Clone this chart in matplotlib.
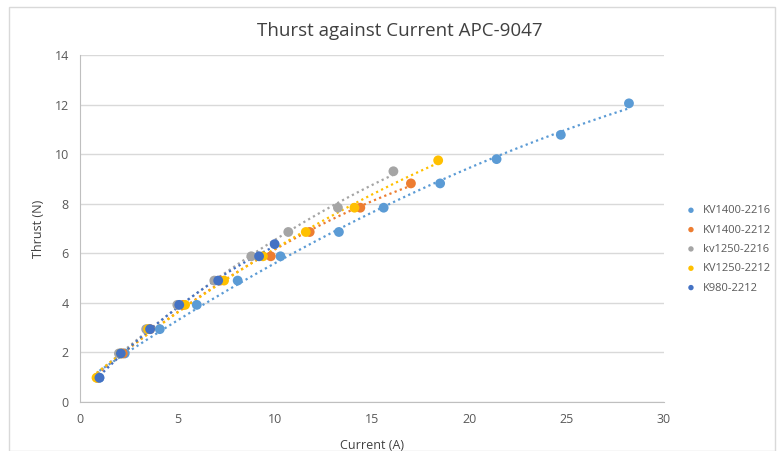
import numpy as np
import matplotlib
matplotlib.use('Agg')
import matplotlib.pyplot as plt
from matplotlib.patches import Rectangle

plt.rcParams['font.family'] = ['Open Sans', 'DejaVu Sans']

names = ['KV1400-2216', 'KV1400-2212', 'kv1250-2216', 'KV1250-2212', 'K980-2212']
colors = ['#5B9BD5', '#ED7D31', '#A5A5A5', '#FFC000', '#4472C4']

# current (A) / thrust (N)
kv1400_2216_i = [1.0, 2.3, 4.1, 6.0, 8.1, 10.3, 13.3, 15.6, 18.5, 21.4, 24.7, 28.2]
kv1400_2216_t = [0.98, 1.96, 2.94, 3.92, 4.9, 5.88, 6.86, 7.84, 8.82, 9.8, 10.78, 12.05]
kv1400_2212_i = [0.9, 2.2, 3.6, 5.3, 7.2, 9.8, 11.8, 14.4, 17.0]
kv1400_2212_t = [0.98, 1.96, 2.94, 3.92, 4.9, 5.88, 6.86, 7.84, 8.82]
kv1250_2216_i = [0.9, 2.0, 3.4, 5.0, 6.9, 8.8, 10.7, 13.25, 16.1]
kv1250_2216_t = [0.98, 1.96, 2.94, 3.92, 4.9, 5.88, 6.86, 7.84, 9.31]
kv1250_2212_i = [0.85, 2.1, 3.5, 5.4, 7.4, 9.4, 11.6, 14.1, 18.4]
kv1250_2212_t = [0.98, 1.96, 2.94, 3.92, 4.9, 5.88, 6.86, 7.84, 9.75]
k980_2212_i = [1.0, 2.1, 3.6, 5.1, 7.1, 9.2, 10.0]
k980_2212_t = [0.98, 1.96, 2.94, 3.92, 4.9, 5.88, 6.37]

series = [(kv1400_2216_i, kv1400_2216_t), (kv1400_2212_i, kv1400_2212_t),
          (kv1250_2216_i, kv1250_2216_t), (kv1250_2212_i, kv1250_2212_t),
          (k980_2212_i, k980_2212_t)]

fig = plt.figure(figsize=(7.81, 4.51), dpi=100)
fig.patches.append(Rectangle((0.012, 0.0), 0.98, 0.985, transform=fig.transFigure,
                             fill=False, edgecolor='#D9D9D9', lw=1))
ax = fig.add_axes([0.1024, 0.1086, 0.7478, 0.7694])

for (x, y), c, n in zip(series, colors, names):
    x = np.array(x); y = np.array(y)
    p = np.polyfit(x, y, 2)
    xs = np.linspace(x.min(), x.max(), 100)
    ax.plot(xs, np.polyval(p, xs), ls=(0, (1, 1.5)), color=c, lw=1.6, zorder=2)
    ax.scatter(x, y, s=50, color=c, label=n, zorder=3, edgecolors='none')

ax.set_xlim(0, 30)
ax.set_ylim(0, 14)
ax.set_xticks(range(0, 31, 5))
ax.set_yticks(range(0, 15, 2))
ax.grid(axis='y', color='#D9D9D9', lw=1)
ax.set_axisbelow(True)
for s in ['top', 'right']:
    ax.spines[s].set_visible(False)
for s in ['left', 'bottom']:
    ax.spines[s].set_color('#BFBFBF')
ax.tick_params(length=0, labelsize=9, colors='#595959', pad=8)
ax.set_xlabel('Current (A)', fontsize=9, color='#404040', labelpad=9)
ax.set_ylabel('Thrust (N)', fontsize=9, color='#404040', labelpad=7)
fig.text(0.512, 0.932, 'Thurst against Current APC-9047', fontsize=13.5,
         color='#404040', ha='center', va='center')

leg = ax.legend(loc='center left', bbox_to_anchor=(1.01, 0.44), frameon=False,
                fontsize=8, markerscale=0.55, handletextpad=0.1, labelspacing=0.75,
                labelcolor='#595959')

fig.savefig('out.png', dpi=100)
